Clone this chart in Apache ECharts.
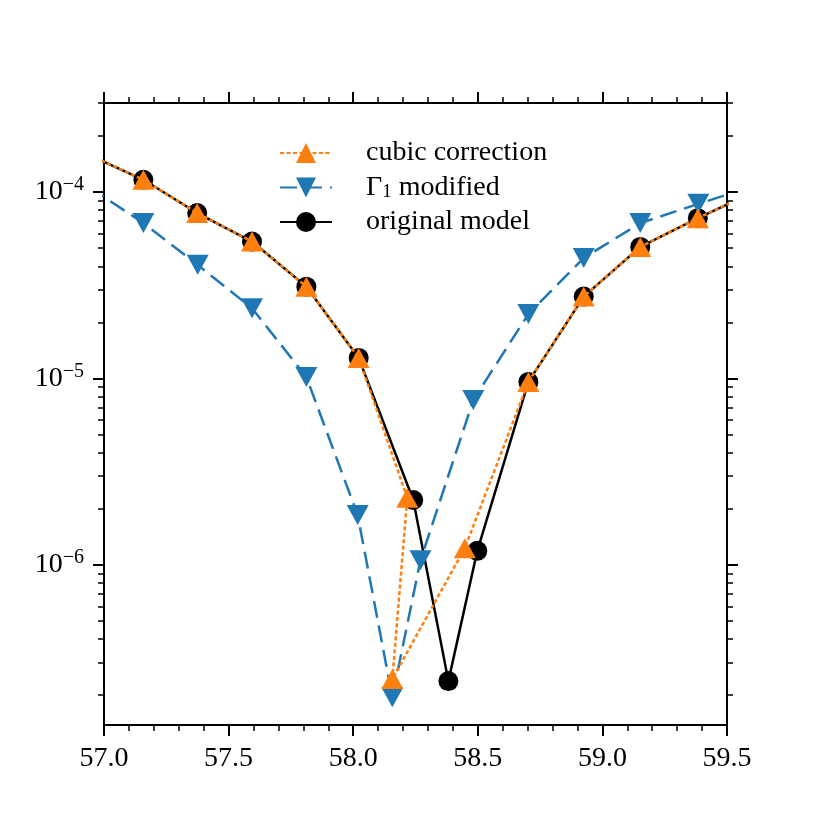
<!DOCTYPE html>
<html><head><meta charset="utf-8">
<script src="https://cdn.jsdelivr.net/npm/echarts@6/dist/echarts.min.js"></script>
<style>html,body{margin:0;padding:0;background:#fff}#c{width:830px;height:830px}</style>
</head><body><div id="c"></div>
<script>
// ---- data ----
const originalX = [56.942, 57.158, 57.374, 57.594, 57.812, 58.022, 58.241, 58.382, 58.498, 58.703, 58.925, 59.152, 59.383, 59.600];
const originalY = [1.58e-4, 1.164e-4, 7.72e-5, 5.43e-5, 3.11e-5, 1.29e-5, 2.23e-6, 2.38e-7, 1.19e-6, 9.59e-6, 2.75e-5, 5.08e-5, 7.25e-5, 9.9e-5];
const cubicX = [56.942, 57.158, 57.374, 57.594, 57.812, 58.022, 58.217, 58.157, 58.448, 58.703, 58.925, 59.152, 59.383, 59.600];
const cubicY = [1.58e-4, 1.164e-4, 7.72e-5, 5.43e-5, 3.11e-5, 1.29e-5, 2.29e-6, 2.44e-7, 1.23e-6, 9.59e-6, 2.75e-5, 5.08e-5, 7.25e-5, 9.9e-5];
const gammaX = [56.942, 57.158, 57.376, 57.594, 57.812, 58.018, 58.157, 58.270, 58.482, 58.703, 58.925, 59.152, 59.385, 59.620];
const gammaY = [1.06e-4, 6.82e-5, 4.07e-5, 2.38e-5, 1.02e-5, 1.85e-6, 1.95e-7, 1.06e-6, 7.67e-6, 2.22e-5, 4.43e-5, 6.82e-5, 8.65e-5, 1.09e-4];
const seriesNames = ['cubic correction', 'Γ1 modified', 'original model'];
const yMajorExponents = [-6, -5, -4];
const xRange = [57.0, 59.5];
const yRange = [1.384e-7, 3.006e-4];

// ---- build ----
const FONT = "'Liberation Serif','DejaVu Serif',serif";
const lg = v => Math.log10(v);
const pairs = (xs, ys) => xs.map((x, i) => [x, lg(ys[i])]);
const yMinorTicks = [];
for (let n = -8; n <= -3; n++) for (let k = 2; k <= 9; k++) {
  const v = n + Math.log10(k);
  if (v >= lg(yRange[0]) && v <= lg(yRange[1])) yMinorTicks.push(v);
}
const lineBlack = {color: '#000', width: 2};
const tickMajor = {show: true, inside: false, length: 11, lineStyle: {color: '#000', width: 2}};
const tickMinor = {show: true, splitNumber: 5, length: 6, lineStyle: {color: '#000', width: 1.5}};

function xAxisDef(pos, showLabel) {
  return {
    type: 'value', position: pos, min: xRange[0], max: xRange[1], interval: 0.5,
    axisLine: {show: true, onZero: false, lineStyle: lineBlack},
    axisTick: tickMajor, minorTick: tickMinor, splitLine: {show: false}, minorSplitLine: {show: false},
    axisLabel: {show: showLabel, margin: 20, color: '#000', fontFamily: FONT, fontSize: 28,
      formatter: v => v.toFixed(1)}
  };
}
function yAxisDef(pos, showLabel) {
  return {
    type: 'value', position: pos, min: lg(yRange[0]), max: lg(yRange[1]),
    axisLine: {show: true, onZero: false, lineStyle: lineBlack},
    axisTick: Object.assign({}, tickMajor, {customValues: yMajorExponents}),
    splitLine: {show: false},
    axisLabel: {show: showLabel, customValues: yMajorExponents, margin: 20, color: '#000',
      formatter: v => '{b|10}{s|\u2212' + Math.abs(Math.round(v)) + '}',
      rich: {
        b: {fontFamily: FONT, fontSize: 28, lineHeight: 34, color: '#000'},
        s: {fontFamily: FONT, fontSize: 20, lineHeight: 19, verticalAlign: 'top', color: '#000'}
      }}
  };
}
function yMinorDef(pos) {
  return {
    type: 'value', position: pos, min: lg(yRange[0]), max: lg(yRange[1]),
    axisLine: {show: false, onZero: false},
    axisTick: {show: true, inside: false, length: 6, customValues: yMinorTicks, lineStyle: {color: '#000', width: 1.5}},
    axisLabel: {show: false}, splitLine: {show: false}
  };
}

const chart = echarts.init(document.getElementById('c'), null, {renderer: 'canvas'});
chart.setOption({
  animation: false,
  backgroundColor: '#fff',
  grid: {left: 104, top: 103, width: 623, height: 622, containLabel: false},
  xAxis: [xAxisDef('bottom', true), xAxisDef('top', false)],
  yAxis: [yAxisDef('left', true), yAxisDef('right', false), yMinorDef('left'), yMinorDef('right')],
  legend: {
    data: seriesNames, orient: 'vertical', left: 279, top: 139, padding: 0,
    itemWidth: 52, itemHeight: 25, itemGap: 6.5,
    textStyle: {fontFamily: FONT, fontSize: 28, color: '#000', padding: [0, 0, 0, 29],
      rich: {
        n: {fontFamily: FONT, fontSize: 28, lineHeight: 28, color: '#000'},
        sub: {fontFamily: FONT, fontSize: 19, lineHeight: 14, verticalAlign: 'bottom', color: '#000'}
      }},
    formatter: name => name === 'Γ1 modified' ? '{n|Γ}{sub|1}{n| modified}' : '{n|' + name + '}'
  },
  series: [
    {type: 'line', name: 'original model', data: pairs(originalX, originalY),
      symbol: 'circle', symbolSize: 20, itemStyle: {color: '#000'},
      lineStyle: {color: '#000', width: 2.5}, z: 2, clip: true},
    {type: 'line', name: 'Γ1 modified', data: pairs(gammaX, gammaY),
      symbol: 'triangle', symbolRotate: 180, symbolSize: [22, 20], itemStyle: {color: '#1f77b4'},
      lineStyle: {color: '#1f77b4', width: 2.5, type: [17, 8]}, z: 3, clip: true},
    {type: 'line', name: 'cubic correction', data: pairs(cubicX, cubicY),
      symbol: 'triangle', symbolSize: [22, 20], itemStyle: {color: '#ff7f0e'},
      lineStyle: {color: '#ff7f0e', width: 2.5, type: [4, 2.5]}, z: 4, clip: true}
  ]
});
</script></body></html>
